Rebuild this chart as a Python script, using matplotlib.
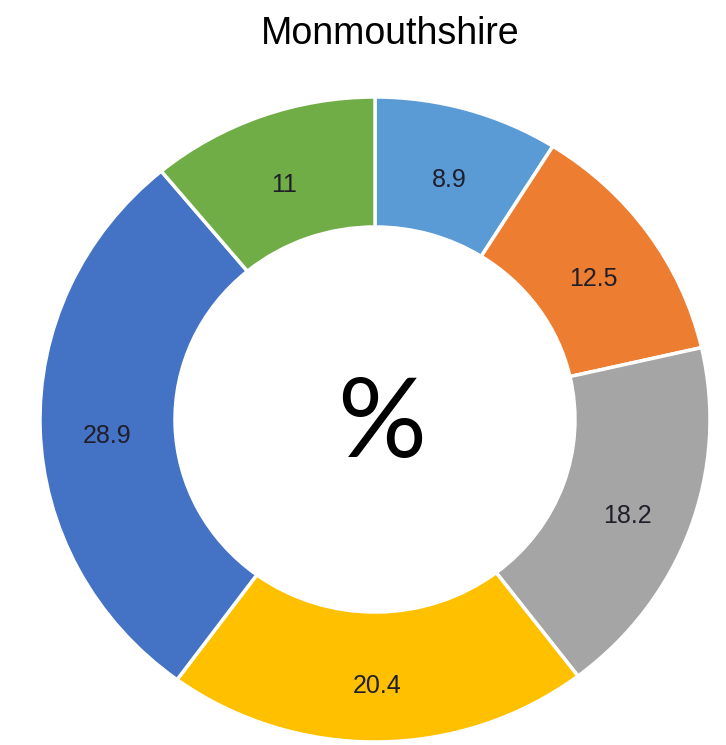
import matplotlib
matplotlib.use("Agg")
import matplotlib.pyplot as plt

title = "Monmouthshire"
values = [8.9, 12.5, 18.2, 20.4, 28.9, 11]
labels = ["8.9", "12.5", "18.2", "20.4", "28.9", "11"]
colors = ["#5B9BD5", "#ED7D31", "#A5A5A5", "#FFC000", "#4472C4", "#70AD47"]

fig = plt.figure(figsize=(7.26, 7.45), dpi=100)
ax = fig.add_axes([40/726, 3/745, 670/726, 645/745])

wedges, texts = ax.pie(values, labels=labels, colors=colors, startangle=90,
                       counterclock=False, radius=1.0, labeldistance=0.8,
                       wedgeprops=dict(width=0.403, edgecolor='white', linewidth=2.5),
                       textprops=dict(fontsize=18, color='#1f1f2a', family='Liberation Sans',
                                      ha='center', va='center'),
                       frame=True)
ax.set_xlim(-1, 1)
ax.set_ylim(-1, 1)
ax.set_aspect('auto')
ax.axis('off')
for t in texts:
    t.set_ha('center')
    t.set_va('center')
    x, y = t.get_position()
    t.set_position((x, y - 0.027))

ax.text(0.02, -0.02, "%", ha='center', va='center', fontsize=80, family='Lato', color='black')
fig.text(390/726, 1 - 44/745, title, ha='center', va='baseline', fontsize=27,
         family='Liberation Sans', color='black')

fig.savefig("out.png", dpi=100)
